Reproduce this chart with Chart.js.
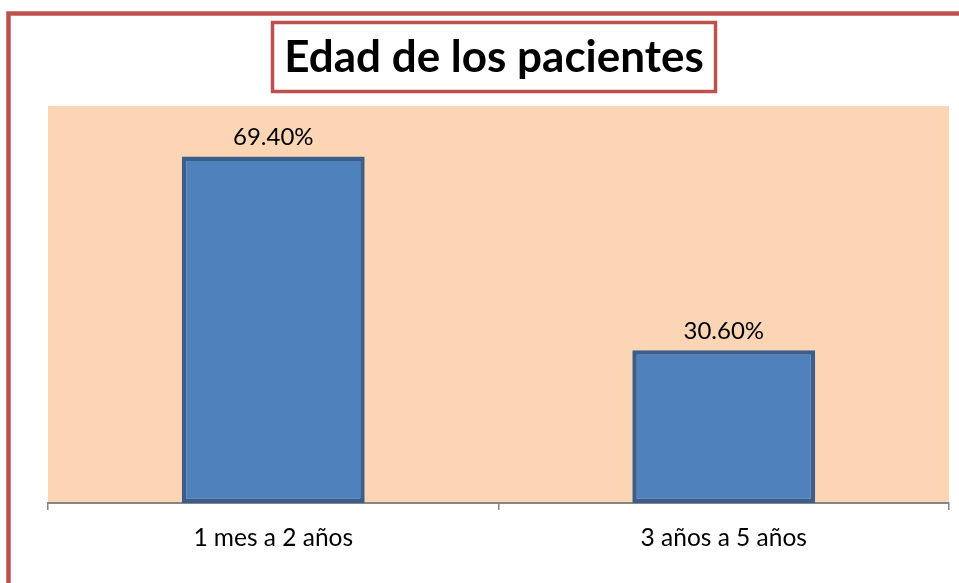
<!DOCTYPE html>
<html>
<head>
<meta charset="utf-8">
<script src="https://cdn.jsdelivr.net/npm/chart.js@4"></script>
<style>
  body { margin: 0; background: #fff; }
  canvas { display: block; }
</style>
</head>
<body>
<canvas id="myChart" width="959" height="583"></canvas>
<script>
// data
var titleText = 'Edad de los pacientes';
var labels = ['1 mes a 2 años', '3 años a 5 años'];
var values = [69.4, 30.6];

var frame = {
    id: 'frame',
    beforeDraw: function(chart) {
        var ctx = chart.ctx, a = chart.chartArea;
        ctx.save();
        ctx.fillStyle = '#FCD5B5';
        ctx.fillRect(a.left, a.top, a.right - a.left, a.bottom - a.top);
        ctx.restore();
    },
    afterDraw: function(chart) {
        var ctx = chart.ctx;
        ctx.save();
        // outer border
        ctx.strokeStyle = '#C0504D';
        ctx.lineWidth = 4.5;
        ctx.strokeRect(8.5, 13.5, 1200, 1200);
        // title box
        ctx.lineWidth = 3.5;
        ctx.strokeRect(272.5, 22.5, 443, 69);
        ctx.fillStyle = '#000';
        ctx.font = 'bold 44px Lato';
        ctx.textAlign = 'center';
        ctx.textBaseline = 'middle';
        ctx.fillText(titleText, 494, 58);
        // value labels
        ctx.font = '24px Lato';
        ctx.textBaseline = 'alphabetic';
        chart.getDatasetMeta(0).data.forEach(function(bar, i) {
            ctx.fillText(values[i].toFixed(2) + '%', bar.x, bar.y - 11);
        });
        ctx.restore();
    }
};

new Chart(document.getElementById('myChart').getContext('2d'), {
    type: 'bar',
    data: {
        labels: labels,
        datasets: [{
            data: values,
            backgroundColor: '#4F81BD',
            borderColor: '#3A5F8C',
            borderWidth: 4.5,
            borderSkipped: false,
            barPercentage: 1,
            categoryPercentage: 0.406
        }]
    },
    options: {
        responsive: false,
        animation: false,
        devicePixelRatio: 1,
        layout: { padding: { left: 48, right: 10, top: 106, bottom: 0 } },
        plugins: { legend: { display: false }, tooltip: { enabled: false } },
        scales: {
            x: {
                afterFit: function(axis) { axis.height = 80; },
                grid: { offset: true, drawOnChartArea: false, drawTicks: true, tickLength: 7, color: '#868686', lineWidth: 1.5 },
                border: { display: true, color: '#868686', width: 2 },
                ticks: { color: '#000', font: { family: 'Lato', size: 24.5 }, padding: 13 }
            },
            y: { display: false, min: 0, max: 79.5 }
        }
    },
    plugins: [frame]
});
</script>
</body>
</html>
